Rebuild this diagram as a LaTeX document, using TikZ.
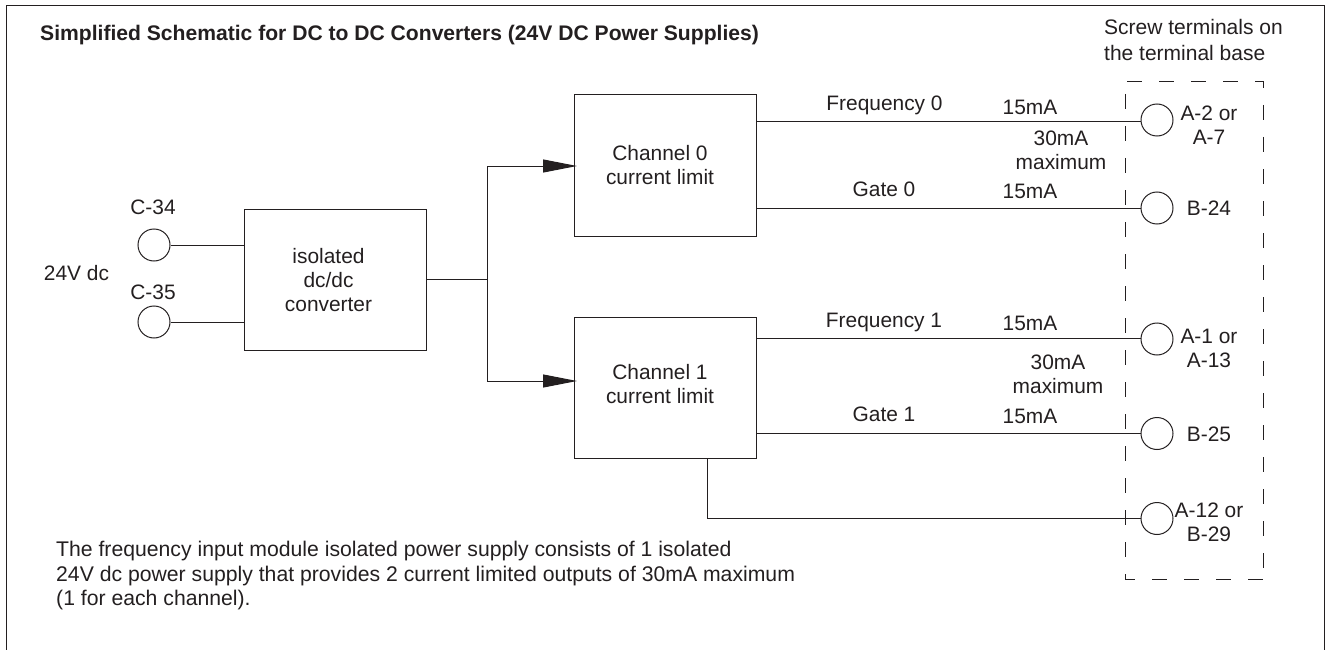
\documentclass[tikz,border=0pt]{standalone}
\usepackage{fontspec}
\setmainfont{Liberation Sans}
\usetikzlibrary{arrows.meta}
\definecolor{ink}{HTML}{231F20}
\begin{document}
\begin{tikzpicture}[x=1pt,y=-1pt,
 lbl/.style={inner sep=0pt,text=ink,font=\fontsize{20.9}{24}\selectfont,align=center},
 lbll/.style={lbl,anchor=west,align=left},
 boxn/.style={draw=ink,line width=1pt,inner sep=0pt,minimum width=182pt,minimum height=141pt},
 term/.style={draw=ink,circle,line width=1pt,minimum size=32pt,inner sep=0pt},
 wire/.style={draw=ink,line width=1pt},
 dashline/.style={draw=ink,line width=0.8pt,dash pattern=on 15pt off 17pt},
 arr/.style={wire,-{Triangle[length=34pt,width=13pt]}}]
\useasboundingbox (0,0) rectangle (1325,650);
\draw[wire] (6,650) -- (6,5.5) -- (1324.5,5.5) -- (1324.5,650);
\node[lbll,font=\bfseries\fontsize{21.1}{24}\selectfont] (title) at (40,35) {Simplified Schematic for DC to DC Converters (24V DC Power Supplies)};
\node[lbl,anchor=west,align=left,font=\fontsize{21}{26}\selectfont] (screw) at (1104,40) {Screw terminals on\\the terminal base};
\draw[dashline] (1127,81) -- (1263,81) -- (1263,579);
\draw[dashline] (1125,94) -- (1125,579) -- (1263,579);
\node[boxn] (ch0) at (665,165.5) {};
\node[boxn] (ch1) at (665,387.5) {};
\node[boxn] (conv) at (335,280) {};
\node[lbl] (tch0) at (660,165.5) {Channel 0\\current limit};
\node[lbl] (tch1) at (660,384) {Channel 1\\current limit};
\node[lbl] (tconv) at (328.5,280) {isolated\\dc/dc\\converter};
\node[term] (c34) at (154,245) {};
\node[term] (c35) at (154,322) {};
\node[term] (t1) at (1157,120) {};
\node[term] (t2) at (1157,208) {};
\node[term] (t3) at (1157,339) {};
\node[term] (t4) at (1157,433.5) {};
\node[term] (t5) at (1157,518.5) {};
\node[lbl] (lc34) at (153,207) {C-34};
\node[lbl] (lc35) at (153,292) {C-35};
\node[lbl] (l24) at (76.5,273) {24V dc};
\node[lbl] (lt1) at (1209,125) {A-2 or\\A-7};
\node[lbl] (lt2) at (1209,208.5) {B-24};
\node[lbl] (lt3) at (1209,348) {A-1 or\\A-13};
\node[lbl] (lt4) at (1209,434) {B-25};
\node[lbl] (lt5) at (1209,522.5) {A-12 or\\B-29};
\node[lbl] at (884.5,105) {Frequency 0};
\node[lbl] at (1030,107) {15mA};
\node[lbl] at (1061,150.5) {30mA\\maximum};
\node[lbl] at (884,189.5) {Gate 0};
\node[lbl] at (1030,191.5) {15mA};
\node[lbl] at (884,322.5) {Frequency 1};
\node[lbl] at (1030,323) {15mA};
\node[lbl] at (1058,374) {30mA\\maximum};
\node[lbl] at (884,414.5) {Gate 1};
\node[lbl] at (1030,416) {15mA};
\node[lbl,anchor=north west,align=left,font=\fontsize{21.2}{24.6}\selectfont] (note) at (56,541) {The frequency input module isolated power supply consists of 1 isolated\\24V dc power supply that provides 2 current limited outputs of 30mA maximum\\(1 for each channel).};
\draw[wire] (c34) -- (c34 -| conv.west);
\draw[wire] (c35) -- (c35 -| conv.west);
\coordinate (j) at (487,279.5);
\draw[wire] (conv.east |- j) -- (j);
\coordinate (a0) at (577,166);
\coordinate (a1) at (577,381);
\draw[arr] (j) |- (a0);
\draw[arr] (j) |- (a1);
\coordinate (w1) at (ch0.east |- 0,121.5);
\draw[wire] (w1) -- (w1 -| t1.west);
\draw[wire] (ch0.east |- t2) -- (t2);
\draw[wire] (ch1.east |- 0,338) -- (t3.west |- 0,338);
\draw[wire] (ch1.east |- t4) -- (t4);
\coordinate (drop) at (707,458);
\draw[wire] (drop) |- (t5);
\end{tikzpicture}
\end{document}
